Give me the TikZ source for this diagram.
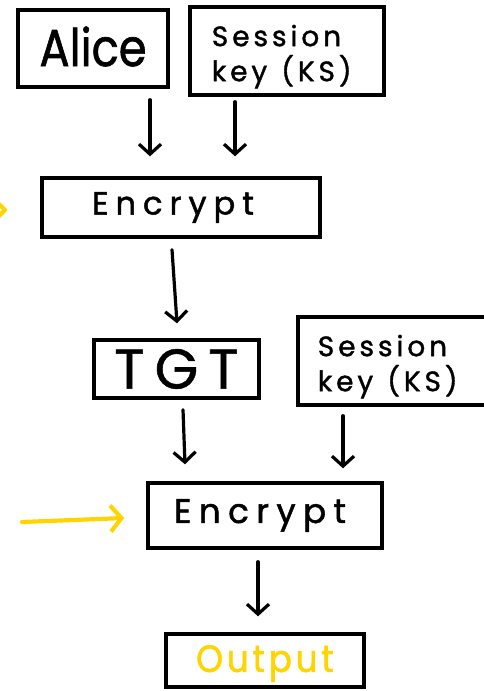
\documentclass[tikz,border=0pt]{standalone}
\usepackage{fontspec}
\setmainfont{Poppins}
\newfontfamily\handA[FakeBold=1.2,FakeStretch=0.86]{Poppins}
\newfontfamily\handS[LetterSpace=14,FakeBold=1.3]{Poppins}
\newfontfamily\handW[LetterSpace=22,FakeBold=1.5]{Poppins}
\newfontfamily\handT[LetterSpace=18,FakeBold=1.0]{Poppins}
\newfontfamily\handO[LetterSpace=10,FakeBold=1.5,FakeStretch=0.9]{Poppins}
\usetikzlibrary{arrows.meta}
\definecolor{hlyellow}{HTML}{FFD400}
\tikzset{
  box/.style={draw=black, line width=3.4pt, rectangle, inner sep=0pt, align=center},
  arr/.style={draw=black, line width=3.2pt, line cap=round, -{Straight Barb[length=10pt,width=22pt,line width=3.2pt]}},
  yarr/.style={draw=hlyellow, line width=4.2pt, line cap=round, -{Straight Barb[length=11pt,width=26pt,line width=4.2pt]}},
  kslabel/.style={text width=180pt, align=left, font={\fontsize{28}{35}\selectfont\handS}},
}
\begin{document}
\begin{tikzpicture}[x=1pt,y=-1pt]
\useasboundingbox (0,0) rectangle (484,691);
\clip (0,0) rectangle (484,691);
\node[box, minimum width=150pt, minimum height=77pt] (alice) at (93,48.5) {};
\node at (alice.center) [yshift=2pt] {\fontsize{52}{56}\selectfont\handA Alice};
\node[box, minimum width=194pt, minimum height=88pt] (ks1) at (287,51) {};
\node[kslabel, anchor=north west] at ([xshift=20pt,yshift=-16pt]ks1.north west) {Session\\key\hspace{14pt}(KS)};
\node[box, minimum width=278pt, minimum height=59pt] (enc1) at (181,207.5) {};
\node at ([xshift=-8pt]enc1.center) {\fontsize{32}{34}\selectfont\handW Encrypt};
\node[box, minimum width=165pt, minimum height=58pt] (tgt) at (176.5,369) {\fontsize{56}{58}\selectfont\handT TGT};
\node[box, minimum width=200pt, minimum height=88pt] (ks2) at (398,361) {};
\node[kslabel, anchor=north west] at ([xshift=18pt,yshift=-16pt]ks2.north west) {Session\\key\hspace{14pt}(KS)};
\node[box, minimum width=234pt, minimum height=65pt] (enc2) at (265,515.5) {};
\node at ([xshift=-5pt]enc2.center) {\fontsize{34}{36}\selectfont\handW Encrypt};
\node[box, minimum width=198pt, minimum height=53pt] (out) at (265,660.5) {};
\node at ([yshift=-3pt]out.center) {\fontsize{38}{40}\selectfont\handO\color{hlyellow} Output};
\draw[arr] ([xshift=57pt,yshift=-11pt]alice.south) -- ([xshift=-31pt,yshift=20pt]enc1.north);
\draw[arr] ([xshift=-52pt,yshift=-5pt]ks1.south) -- ([xshift=54pt,yshift=20pt]enc1.north);
\draw[arr] ([xshift=-9pt,yshift=-11pt]enc1.south) -- ([xshift=0.5pt,yshift=15pt]tgt.north);
\draw[arr] ([xshift=6.5pt,yshift=-10pt]tgt.south) -- ([xshift=-80pt,yshift=17pt]enc2.north);
\draw[arr] ([xshift=-55pt,yshift=-9pt]ks2.south) -- ([xshift=78pt,yshift=13pt]enc2.north);
\draw[arr] ([xshift=-7pt,yshift=-12pt]enc2.south) -- ([xshift=-7pt,yshift=16pt]out.north);
\coordinate (ysrc) at (22,522);
\draw[yarr] (ysrc) -- ([xshift=-22pt,yshift=-2.5pt]enc2.west);
\draw[draw=hlyellow, line width=4.2pt, line cap=round, line join=round] (-2,203) -- (5,210) -- (-2,217);
\end{tikzpicture}
\end{document}
